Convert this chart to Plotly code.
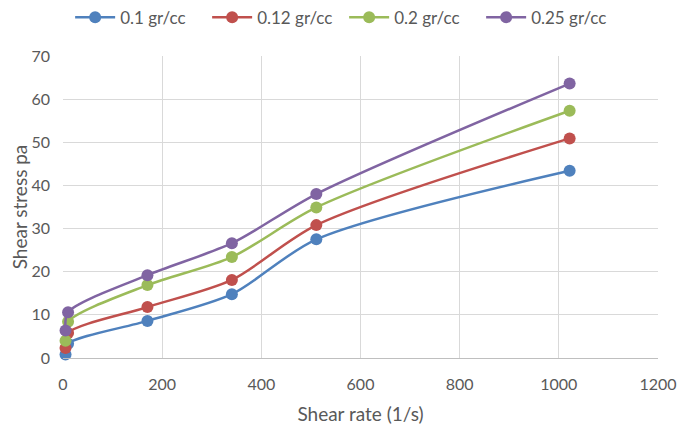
import plotly.graph_objects as go

shear_rate = [5.11, 10.22, 170.3, 340.6, 510.9, 1021.8]
series_names = ["0.1 gr/cc", "0.12 gr/cc", "0.2 gr/cc", "0.25 gr/cc"]
stress_01 = [0.8, 3.3, 8.6, 14.8, 27.5, 43.4]
stress_012 = [2.3, 5.8, 11.8, 18.1, 30.8, 50.9]
stress_02 = [4.0, 8.4, 16.9, 23.4, 34.9, 57.3]
stress_025 = [6.4, 10.6, 19.2, 26.6, 38.0, 63.6]
colors = ["#4F81BD", "#C0504D", "#9BBB59", "#8064A2"]

x_ticks = [0, 200, 400, 600, 800, 1000, 1200]
y_ticks = [0, 10, 20, 30, 40, 50, 60, 70]

fig = go.Figure()
for name, ys, c in zip(series_names, [stress_01, stress_012, stress_02, stress_025], colors):
    fig.add_trace(go.Scatter(
        x=shear_rate, y=ys, name=name, mode="lines+markers",
        line=dict(color=c, width=2.5, shape="spline", smoothing=0.8),
        marker=dict(color=c, size=12),
        cliponaxis=False,
    ))

font_family = "Lato"
grey = "#595959"
fig.update_layout(
    width=677, height=422,
    margin=dict(l=55, r=27, t=48, b=72, autoexpand=False),
    paper_bgcolor="white", plot_bgcolor="white",
    font=dict(family=font_family, size=16, color=grey),
    showlegend=True,
    legend=dict(orientation="h", x=0.012, xanchor="left", y=1.127, yanchor="middle",
                font=dict(size=17, color=grey), entrywidth=82, entrywidthmode="pixels",
                itemwidth=40),
    xaxis=dict(range=[0, 1200], tickvals=x_ticks, showgrid=True, gridcolor="#D9D9D9",
               gridwidth=1, zeroline=False, showline=True, linecolor="#BFBFBF",
               ticks="", ticklabelstandoff=12, automargin=False,
               title=dict(text="Shear rate (1/s)", font=dict(size=19), standoff=15),
               tickfont=dict(size=16)),
    yaxis=dict(range=[0, 70], tickvals=y_ticks, showgrid=True, gridcolor="#D9D9D9",
               gridwidth=1, zeroline=False, showline=False,
               ticks="", ticklabelstandoff=12, automargin=False,
               title=dict(text="Shear stress pa", font=dict(size=19), standoff=14),
               tickfont=dict(size=16)),
)
fig.write_html("out.html")
